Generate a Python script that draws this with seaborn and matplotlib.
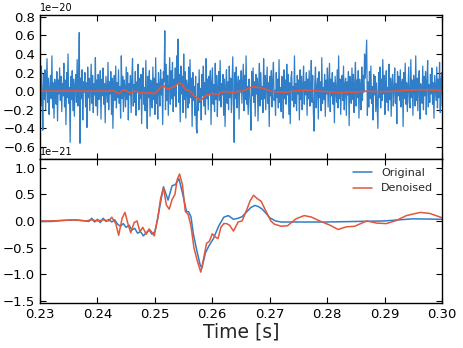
import numpy as np
import pandas as pd
import matplotlib
matplotlib.use("Agg")
import matplotlib.pyplot as plt
import seaborn as sns

# ---------------- data ----------------
# whitened strain noise, units of 1e-20, sampled at 8192 Hz from t = 0.23 s
noise_vals = [
    0.10, -0.16, 0.27, -0.04, -0.42, 0.18, -0.09, 0.23, -0.20, 0.07, 0.35, -0.12, 0.14, -0.25, 0.03, 0.17,
    -0.08, 0.38, -0.18, 0.09, -0.29, 0.13, 0.05, -0.14, 0.21, -0.32, 0.12, -0.03, 0.25, -0.10, 0.16, -0.22,
    0.08, -0.05, 0.30, -0.17, 0.12, -0.36, 0.20, -0.07, 0.40, -0.13, 0.04, -0.55, 0.16, -0.09, 0.22, -0.21,
    0.13, -0.27, 0.07, 0.18, -0.12, 0.34, -0.16, 0.03, 0.63, -0.56, 0.14, -0.08, 0.23, -0.31, 0.10, -0.01,
    0.20, -0.17, 0.09, -0.39, 0.26, -0.07, 0.14, -0.21, 0.05, 0.29, -0.13, 0.17, -0.23, 0.08, -0.04, 0.36,
    -0.16, 0.12, -0.26, 0.18, -0.09, 0.04, 0.22, -0.30, 0.13, -0.05, 0.25, -0.14, 0.08, -0.34, 0.16, 0.01,
    -0.12, 0.31, -0.20, 0.10, -0.03, 0.21, -0.25, 0.14, -0.40, 0.07, 0.17, -0.10, 0.27, -0.18, 0.09, -0.07,
    0.23, -0.13, 0.05, -0.29, 0.38, -0.08, 0.16, -0.22, 0.12, 0.03, -0.17, 0.26, -0.09, 0.20, -0.31, 0.08,
    -0.04, 0.17, -0.23, 0.13, 0.35, -0.16, 0.07, -0.12, 0.21, -0.26, 0.10, -0.01, 0.29, -0.20, 0.14, -0.08,
    0.18, -0.35, 0.09, 0.25, -0.14, 0.04, -0.21, 0.33, -0.10, -0.40, 0.16, -0.07, 0.22, -0.27, 0.12, 0.03,
    -0.18, 0.26, -0.09, 0.14, -0.25, 0.36, -0.13, 0.08, -0.30, 0.20, 0.05, -0.16, 0.23, -0.04, 0.13, -0.36,
    0.21, 0.10, 0.65, -0.20, 0.29, -0.10, 0.17, -0.26, 0.07, 0.36, -0.14, 0.22, -0.08, 0.31, -0.22, 0.13,
    -0.05, 0.25, -0.17, 0.38, 0.09, 0.56, -0.12, 0.18, -0.33, 0.27, -0.03, 0.16, -0.23, 0.40, -0.09, 0.21,
    -0.29, 0.12, 0.04, -0.18, 0.26, -0.13, 0.34, -0.07, 0.14, -0.38, 0.20, -0.10, 0.05, -0.26, 0.16, -0.40,
    -0.45, 0.08, -0.21, 0.23, -0.12, 0.03, -0.31, 0.18, -0.05, 0.27, -0.16, 0.09, -0.25, 0.35, -0.08, 0.13,
    -0.20, 0.16, -0.03, 0.22, -0.36, 0.10, 0.25, -0.14, 0.07, -0.22, 0.30, -0.09, 0.17, -0.27, 0.04, 0.21,
    -0.10, 0.33, -0.17, 0.08, -0.04, 0.18, -0.26, 0.13, -0.38, 0.05, 0.23, -0.13, 0.10, -0.20, 0.27, -0.07,
    0.14, -0.23, 0.09, 0.37, -0.16, -0.55, 0.20, -0.08, 0.26, -0.18, 0.04, 0.16, -0.30, 0.12, -0.01, 0.22,
    -0.13, 0.07, 0.29, -0.21, 0.17, -0.09, 0.38, -0.14, 0.05, -0.25, 0.13, 0.03, -0.17, -0.42, 0.21, -0.05,
    0.25, -0.12, 0.10, -0.27, 0.18, -0.03, 0.14, -0.32, 0.08, 0.30, -0.16, 0.20, -0.09, 0.05, -0.23, 0.35,
    -0.08, 0.17, -0.20, 0.03, 0.26, -0.13, 0.09, -0.38, 0.16, -0.05, 0.22, -0.17, 0.12, 0.31, -0.10, 0.01,
    -0.26, 0.20, -0.07, 0.13, -0.18, 0.34, -0.12, 0.04, -0.22, 0.16, 0.07, -0.29, 0.23, -0.08, 0.12, -0.14,
    0.29, -0.04, 0.18, -0.25, 0.09, -0.35, 0.14, 0.21, -0.10, 0.05, -0.17, 0.38, -0.13, 0.08, -0.21, 0.17,
    -0.03, 0.12, -0.31, 0.23, -0.09, 0.16, -0.20, 0.07, 0.27, -0.14, 0.10, -0.04, 0.20, -0.26, 0.13, -0.08,
    0.22, -0.16, 0.05, 0.33, -0.12, 0.17, -0.23, -0.43, 0.09, 0.26, -0.18, 0.03, 0.14, -0.30, 0.21, -0.07,
    0.10, -0.21, 0.36, -0.13, 0.04, -0.09, 0.18, -0.27, 0.12, -0.03, 0.25, -0.17, 0.08, 0.30, -0.22, 0.13,
    -0.05, 0.20, -0.14, 0.09, -0.34, 0.16, 0.01, -0.12, 0.23, -0.18, 0.38, -0.08, 0.13, -0.25, 0.05, 0.17,
    -0.10, 0.27, -0.20, 0.07, 0.14, -0.26, 0.10, -0.04, 0.21, -0.37, 0.16, 0.04, -0.13, 0.25, -0.09, 0.18,
    -0.23, 0.08, 0.31, -0.16, 0.12, -0.07, 0.22, -0.29, 0.13, 0.03, -0.20, 0.26, -0.10, 0.17, -0.01, 0.40,
    0.14, 0.36, 0.55, -0.26, 0.10, -0.17, 0.21, -0.08, 0.27, -0.13, 0.05, -0.31, 0.18, -0.04, 0.16, -0.22,
    0.09, -0.14, -0.40, 0.20, -0.07, 0.26, -0.18, 0.13, -0.10, 0.34, -0.03, 0.17, -0.25, 0.07, 0.22, -0.12,
    0.04, -0.21, 0.29, -0.09, 0.14, -0.27, 0.10, 0.18, -0.16, 0.01, 0.25, -0.13, 0.08, -0.35, 0.21, -0.05,
    0.16, -0.10, 0.23, -0.17, 0.07, 0.13, -0.38, 0.20, -0.08, 0.30, -0.14, 0.09, -0.22, 0.03, 0.26, -0.12,
    -0.18, 0.34, -0.07, 0.12, -0.26, 0.17, 0.05, -0.16, 0.38, -0.10, 0.14, -0.21, 0.09, 0.22, -0.30, 0.08,
    0.01, -0.13, 0.27, -0.20, 0.16, -0.05, 0.21, -0.25, 0.10, 0.33, -0.17, 0.07, -0.12, 0.18, -0.03, 0.25,
    -0.14, 0.09, -0.29, 0.17, 0.04, -0.10, 0.26, -0.18, 0.13, -0.07, 0.31, -0.23, 0.12, 0.20, -0.16, 0.08,
]
noise_rate = 8192.0
noise_t0 = 0.23

# original template (units of 1e-21)
orig_t = [0.230, 0.232, 0.234, 0.236, 0.237, 0.238, 0.2385, 0.239, 0.2395, 0.240, 0.2405, 0.241,
          0.2415, 0.242, 0.2425, 0.243, 0.2435, 0.244, 0.2445, 0.245, 0.2455, 0.246, 0.2465, 0.247,
          0.2475, 0.248, 0.2485, 0.249, 0.2495, 0.2500, 0.2505, 0.2510, 0.2515, 0.2523, 0.2530,
          0.25355, 0.2542, 0.2549, 0.2555, 0.2559, 0.2563, 0.2567, 0.2573, 0.2579, 0.2582, 0.2588,
          0.2594, 0.2602, 0.2611, 0.2620, 0.2628, 0.2637, 0.2645, 0.2652, 0.2660, 0.2667, 0.2674,
          0.2680, 0.2686, 0.2693, 0.2700, 0.2710, 0.2720, 0.2750, 0.2800, 0.2850, 0.2900, 0.2950,
          0.3000]
orig_v = [-0.01, -0.01, 0.01, 0.02, 0.01, 0.0, -0.01, 0.05, -0.02, 0.03, -0.03, 0.05,
          -0.01, 0.03, -0.02, 0.02, -0.06, -0.10, -0.05, -0.12, -0.08, -0.17, -0.14, -0.23,
          -0.20, -0.28, -0.22, -0.17, -0.25, -0.20, 0.05, 0.35, 0.64, 0.39, 0.66,
          0.68, 0.79, 0.48, 0.18, 0.17, 0.07, -0.24, -0.55, -0.83, -0.88, -0.60,
          -0.47, -0.33, -0.10, 0.07, 0.10, 0.03, 0.05, 0.08, 0.17, 0.25, 0.29,
          0.27, 0.23, 0.15, 0.06, 0.00, -0.02, -0.02, -0.02, -0.01, 0.00, 0.04,
          0.03]

# denoised reconstruction (units of 1e-21)
den_t = [0.230, 0.232, 0.234, 0.236, 0.238, 0.239, 0.240, 0.241, 0.242, 0.2425, 0.2432, 0.2437,
         0.2443, 0.2448, 0.2453, 0.2458, 0.2464, 0.2469, 0.2474, 0.2479, 0.2485, 0.2490, 0.2494,
         0.2499, 0.2505, 0.2510, 0.2515, 0.2520, 0.2525, 0.2530, 0.2535, 0.2539, 0.2543, 0.2548,
         0.2553, 0.2558, 0.2563, 0.2568, 0.2574, 0.2580, 0.2585, 0.2590, 0.2595, 0.2600, 0.2605,
         0.2610, 0.2615, 0.2620, 0.2625, 0.2630, 0.2637, 0.2645, 0.2652, 0.2660, 0.2666, 0.2672,
         0.2678, 0.2685, 0.2694, 0.2702, 0.2708, 0.2720, 0.2731, 0.2746, 0.2760, 0.2772, 0.2787,
         0.2805, 0.2819, 0.2834, 0.2848, 0.2869, 0.2886, 0.2903, 0.2921, 0.2938, 0.2962, 0.2979,
         0.3000]
den_v = [0.0, 0.0, 0.01, 0.02, 0.0, 0.02, 0.0, 0.02, 0.0, 0.07, -0.05, -0.27,
         0.05, 0.16, -0.05, -0.22, -0.03, 0.0, -0.20, -0.12, -0.25, -0.15, -0.20,
         -0.28, 0.05, 0.42, 0.62, 0.30, 0.22, 0.40, 0.50, 0.78, 0.88, 0.68,
         0.18, 0.12, -0.10, -0.50, -0.75, -0.96, -0.70, -0.42, -0.38, -0.24, -0.30,
         -0.33, -0.12, -0.05, -0.05, -0.08, -0.19, -0.02, 0.0, 0.21, 0.38, 0.48,
         0.42, 0.37, 0.17, 0.0, -0.06, -0.10, -0.09, 0.04, 0.10, 0.075, 0.0,
         -0.08, -0.16, -0.11, -0.10, 0.0, -0.04, -0.05, 0.01, 0.10, 0.16, 0.14,
         0.06]

series_labels = ["Original", "Denoised"]
xticks_vals = [0.23, 0.24, 0.25, 0.26, 0.27, 0.28, 0.29, 0.30]
top_yticks = [-0.6, -0.4, -0.2, 0.0, 0.2, 0.4, 0.6, 0.8]
bot_yticks = [-1.5, -1.0, -0.5, 0.0, 0.5, 1.0]
xlabel_text = "Time [s]"

# ---------------- style ----------------
sns.set_style("ticks")
plt.rcParams['font.family'] = ['DejaVu Sans']
plt.rcParams.update({
    'xtick.direction': 'in', 'ytick.direction': 'in',
    'xtick.top': True, 'ytick.right': True,
    'xtick.major.size': 4, 'ytick.major.size': 4,
    'xtick.major.width': 0.8, 'ytick.major.width': 0.8,
    'axes.edgecolor': 'black', 'axes.linewidth': 1.0,
    'xtick.color': 'black', 'ytick.color': 'black',
    'xtick.labelsize': 9.5, 'ytick.labelsize': 9.5,
})

BLUE = '#2F7EC7'
RED = '#E2573A'

fig = plt.figure(figsize=(4.63, 3.48), dpi=100)
gs = fig.add_gridspec(2, 1, left=0.0864, right=0.9546, top=0.957, bottom=0.129, hspace=0.0)
ax1 = fig.add_subplot(gs[0])
ax2 = fig.add_subplot(gs[1], sharex=ax1)

noise_t = noise_t0 + np.arange(len(noise_vals)) / noise_rate
df_noise = pd.DataFrame({'t': noise_t, 'h': np.array(noise_vals) * 1e-20})
df_orig = pd.DataFrame({'t': orig_t, 'h': np.array(orig_v) * 1e-21})
df_den = pd.DataFrame({'t': den_t, 'h': np.array(den_v) * 1e-21})

sns.lineplot(data=df_noise, x='t', y='h', ax=ax1, color=BLUE, lw=0.9,
             estimator=None, sort=False)
sns.lineplot(data=df_den, x='t', y='h', ax=ax1, color=RED, lw=1.2,
             estimator=None, sort=False)

sns.lineplot(data=df_orig, x='t', y='h', ax=ax2, color=BLUE, lw=1.1,
             estimator=None, sort=False, label=series_labels[0])
sns.lineplot(data=df_den, x='t', y='h', ax=ax2, color=RED, lw=1.1,
             estimator=None, sort=False, label=series_labels[1])

ax1.set_xlim(0.23, 0.30)
ax1.set_ylim(-0.73e-20, 0.82e-20)
ax1.set_yticks(np.array(top_yticks) * 1e-20)
ax2.set_ylim(-1.54e-21, 1.16e-21)
ax2.set_yticks(np.array(bot_yticks) * 1e-21)
ax1.ticklabel_format(axis='y', style='sci', scilimits=(-20, -20))
ax2.ticklabel_format(axis='y', style='sci', scilimits=(-21, -21))
ax2.set_xticks(xticks_vals)
ax2.set_xticklabels([f"{v:.2f}" for v in xticks_vals])
plt.setp(ax1.get_xticklabels(), visible=False)

for ax in (ax1, ax2):
    ax.set_xlabel("")
    ax.set_ylabel("")
    ax.yaxis.get_offset_text().set_fontsize(7)
    for s in ax.spines.values():
        s.set_visible(True)
        s.set_color('black')

ax2.set_xlabel(xlabel_text, fontsize=13.5, labelpad=1)

leg = ax2.legend(loc='upper right', frameon=False, fontsize=8, handlelength=1.7,
                 borderaxespad=0.4, labelspacing=0.5)

fig.savefig("out.png", dpi=100)
